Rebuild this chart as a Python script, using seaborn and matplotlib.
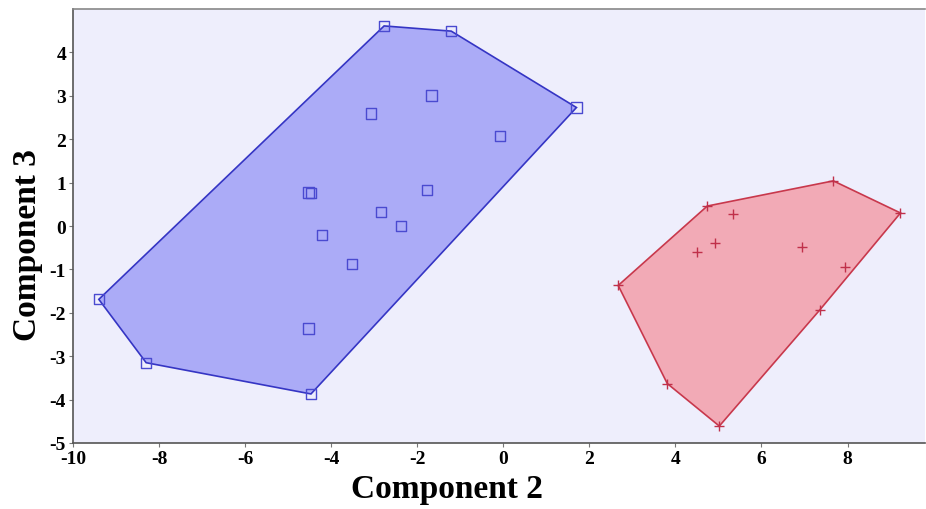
import numpy as np
import pandas as pd
import matplotlib
matplotlib.use("Agg")
import matplotlib.pyplot as plt
import seaborn as sns

# Scores on components 2 and 3 for the two groups
group_a_x = [-2.77, -1.21, 1.70, -1.67, -3.07, -0.07, -4.53, -4.47, -1.77,
             -2.84, -4.21, -2.37, -3.51, -4.53, -9.40, -8.30, -4.47]
group_a_y = [4.61, 4.49, 2.73, 3.01, 2.59, 2.08, 0.77, 0.76, 0.83,
             0.32, -0.21, 0.00, -0.88, -2.36, -1.69, -3.15, -3.87]

group_b_x = [7.67, 9.23, 5.02, 3.81, 2.67, 4.74, 5.33, 4.93, 4.51, 6.95, 7.95, 7.35]
group_b_y = [1.04, 0.30, -4.61, -3.63, -1.37, 0.46, 0.28, -0.39, -0.60, -0.49, -0.95, -1.94]

x_ticks = [-10, -8, -6, -4, -2, 0, 2, 4, 6, 8]
y_ticks = [-5, -4, -3, -2, -1, 0, 1, 2, 3, 4]


def convex_hull(xs, ys):
    pts = sorted(set(zip(xs, ys)))

    def cross(o, a, b):
        return (a[0] - o[0]) * (b[1] - o[1]) - (a[1] - o[1]) * (b[0] - o[0])

    lower, upper = [], []
    for p in pts:
        while len(lower) >= 2 and cross(lower[-2], lower[-1], p) <= 0:
            lower.pop()
        lower.append(p)
    for p in reversed(pts):
        while len(upper) >= 2 and cross(upper[-2], upper[-1], p) <= 0:
            upper.pop()
        upper.append(p)
    hull = np.array(lower[:-1] + upper[:-1])
    return hull[:, 0], hull[:, 1]


df = pd.DataFrame({
    "Component 2": group_a_x + group_b_x,
    "Component 3": group_a_y + group_b_y,
    "group": ["A"] * len(group_a_x) + ["B"] * len(group_b_x),
})

sns.set_style("white")
plt.rcParams["font.family"] = ["Liberation Serif", "DejaVu Serif"]
plt.rcParams["text.color"] = "black"
plt.rcParams["axes.labelcolor"] = "black"
plt.rcParams["xtick.labelcolor"] = "black"
plt.rcParams["ytick.labelcolor"] = "black"

fig = plt.figure(figsize=(9.26, 5.10), dpi=100)
ax = fig.add_axes([73 / 926, 1 - 444 / 510, 852 / 926, 434 / 510])
ax.set_facecolor("#EEEEFC")

# Hull regions
hx, hy = convex_hull(group_a_x, group_a_y)
ax.fill(hx, hy, facecolor="#ABABF7", edgecolor="#3535C4", linewidth=1.2, zorder=1)
hx, hy = convex_hull(group_b_x, group_b_y)
ax.fill(hx, hy, facecolor="#F2AAB6", edgecolor="#C8384C", linewidth=1.2, zorder=1)

sns.scatterplot(data=df[df.group == "A"], x="Component 2", y="Component 3",
                marker="s", s=55, facecolor="none", edgecolor="#4A4AD0",
                linewidth=1.0, ax=ax, zorder=3, legend=False)
sns.scatterplot(data=df[df.group == "B"], x="Component 2", y="Component 3",
                marker="+", s=60, color="#C0304A", linewidth=1.0,
                ax=ax, zorder=3, legend=False)

ax.set_xlim(-10, 9.8)
ax.set_ylim(-5, 5)
ax.set_xticks(x_ticks)
ax.set_yticks(y_ticks)
ax.set_xticklabels([str(t) for t in x_ticks], fontsize=14, fontweight="bold")
ax.set_yticklabels([str(t) for t in y_ticks], fontsize=14, fontweight="bold")
ax.tick_params(axis="both", direction="out", length=3, width=0.8,
               color="#777777", labelcolor="black", pad=2, bottom=True, left=True)

for side in ["left", "bottom"]:
    ax.spines[side].set_color("#555555")
    ax.spines[side].set_linewidth(1.2)
ax.spines["top"].set_color("#888888")
ax.spines["top"].set_linewidth(1.2)
ax.spines["right"].set_visible(False)

ax.set_xlabel("Component 2", fontsize=24, fontweight="bold", color="black")
ax.set_ylabel("Component 3", fontsize=24, fontweight="bold", color="black")
ax.xaxis.set_label_coords(0.439, -0.07)
ax.yaxis.set_label_coords(-0.035, 0.458)

fig.savefig("out.png", dpi=100, facecolor="white")
